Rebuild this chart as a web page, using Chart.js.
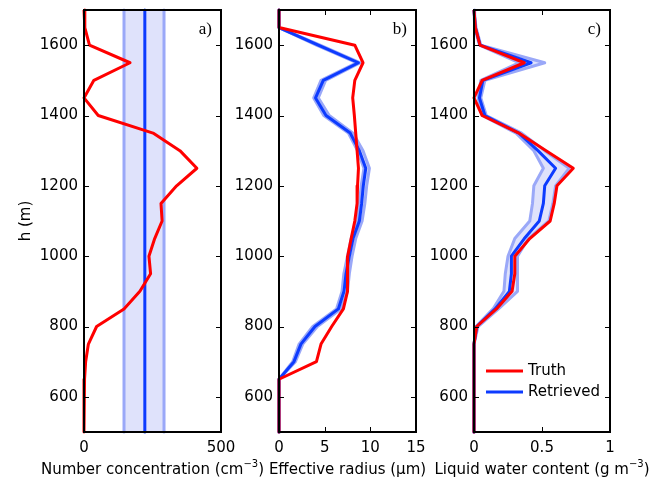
<!DOCTYPE html>
<html>
<head>
<meta charset="utf-8">
<script src="https://cdn.jsdelivr.net/npm/chart.js@4/dist/chart.umd.min.js"></script>
<style>
  body { margin: 0; background: #fff; }
  #wrap { position: relative; width: 652px; height: 483px; }
  canvas { position: absolute; left: 0; top: 0; }
</style>
</head>
<body>
<div id="wrap">
  <canvas id="panelA" width="652" height="483"></canvas>
  <canvas id="panelB" width="652" height="483"></canvas>
  <canvas id="panelC" width="652" height="483"></canvas>
</div>
<script>
// profile heights (m), top to bottom
var heights = [1700, 1650, 1600, 1550, 1500, 1450, 1400, 1350, 1300, 1250, 1200, 1150, 1100,
               1050, 1000, 950, 900, 850, 800, 750, 700, 650, 600, 550, 500];
var hTicks = [600, 800, 1000, 1200, 1400, 1600];

// a) number concentration (cm-3)
var ncTruth = [0, 3, 20, 168, 36, 0, 52, 252, 350, 412, 338, 281, 285,
               258, 237, 243, 204, 146, 46, 16, 6, 2, 0, 0, 0];
var ncHeights = [1700, 500];
var ncRetrieved = [222, 222];
var ncLower = [146, 146];
var ncUpper = [292, 292];
var ncTicks = [0, 500];

// b) effective radius (um)
var reTruth = [0, 0, 8.3, 9.2, 8.3, 8.07, 8.25, 8.4, 8.55, 8.7, 8.6, 8.55, 8.3,
               7.9, 7.52, 7.5, 7.5, 7.05, 5.77, 4.6, 4.1, 0, 0, 0, 0];
var reRetrieved = [0, 0, 4.3, 8.7, 4.85, 4.0, 5.15, 7.8, 8.8, 9.5, 9.23, 9.05, 8.8,
                   8.1, 7.7, 7.34, 7.12, 6.5, 3.94, 2.4, 1.64, 0, 0, 0, 0];
var reLower = [0, 0, 4.1, 8.5, 4.6, 3.8, 4.9, 7.6, 8.6, 9.3, 9.0, 8.8, 8.6,
               7.9, 7.5, 7.1, 6.9, 6.3, 3.7, 2.2, 1.5, 0, 0, 0, 0];
var reUpper = [0, 0, 4.5, 8.9, 5.1, 4.3, 5.5, 8.1, 9.2, 9.9, 9.6, 9.4, 9.1,
               8.4, 8.0, 7.7, 7.5, 6.8, 4.2, 2.6, 1.8, 0, 0, 0, 0];
var reTicks = [0, 5, 10, 15];

// c) liquid water content (g m-3)
var lwcTruth = [0, 0.01, 0.044, 0.37, 0.06, 0, 0.06, 0.33, 0.53, 0.73, 0.61, 0.59, 0.56,
                0.41, 0.30, 0.30, 0.28, 0.165, 0.02, 0, 0, 0, 0, 0, 0];
var lwcRetrieved = [0, 0.01, 0.045, 0.42, 0.065, 0.04, 0.08, 0.33, 0.47, 0.60, 0.52, 0.51, 0.48,
                    0.37, 0.275, 0.275, 0.26, 0.155, 0.02, 0, 0, 0, 0, 0, 0];
var lwcLower = [0, 0.005, 0.04, 0.33, 0.05, 0.03, 0.06, 0.31, 0.44, 0.51, 0.44, 0.43, 0.41,
                0.30, 0.25, 0.23, 0.22, 0.14, 0.015, 0, 0, 0, 0, 0, 0];
var lwcUpper = [0, 0.015, 0.05, 0.52, 0.08, 0.05, 0.09, 0.35, 0.52, 0.70, 0.60, 0.58, 0.55,
                0.40, 0.32, 0.32, 0.32, 0.18, 0.03, 0, 0, 0, 0, 0, 0];
var lwcTicks = [0, 0.5, 1];

Chart.defaults.font.family = 'DejaVu Sans';
Chart.defaults.font.size = 15;
Chart.defaults.color = '#000';

var RED = '#ff0000';
var BLUE = '#0d3bff';
var BAND_EDGE = '#9aa8f8';
var BAND_FILL = '#dfe2fb';

function pts(xs, hs) {
  return xs.map(function (v, i) { return {x: v, y: hs[i]}; });
}

function bandShape(lo, hi, hs) {
  return pts(lo, hs).concat(pts(hi, hs).reverse());
}

function line(label, data, color, order) {
  return {
    label: label, data: data, borderColor: color, borderWidth: 3,
    pointRadius: 0, tension: 0, fill: false, order: order,
    borderJoinStyle: 'round', clip: 6
  };
}

// box with inward ticks on all sides, panel letter, x title, legend
var framePlugin = {
  id: 'frame',
  afterDraw: function (chart) {
    var o = chart.options.plugins.frame;
    var ctx = chart.ctx, a = chart.chartArea;
    var sx = chart.scales.x, sy = chart.scales.y;
    ctx.save();
    ctx.strokeStyle = '#000';
    ctx.lineWidth = 1;
    ctx.beginPath();
    o.xTicks.forEach(function (v) {
      var px = Math.round(sx.getPixelForValue(v)) + 0.5;
      ctx.moveTo(px, a.bottom); ctx.lineTo(px, a.bottom - 5);
      ctx.moveTo(px, a.top); ctx.lineTo(px, a.top + 5);
    });
    hTicks.forEach(function (v) {
      var py = Math.round(sy.getPixelForValue(v)) + 0.5;
      ctx.moveTo(a.left, py); ctx.lineTo(a.left + 5, py);
      ctx.moveTo(a.right, py); ctx.lineTo(a.right - 5, py);
    });
    ctx.stroke();
    ctx.lineWidth = 2;
    ctx.strokeRect(a.left, a.top, a.right - a.left, a.bottom - a.top);

    // panel letter
    ctx.fillStyle = '#000';
    ctx.font = '17px "Liberation Serif"';
    ctx.textAlign = 'right';
    ctx.textBaseline = 'alphabetic';
    ctx.fillText(o.letter, a.right - 9, a.top + 24);

    // x axis title with superscript
    var parts = o.title;
    var widths = parts.map(function (p) {
      ctx.font = (p.sup ? '10px' : '15px') + ' "DejaVu Sans"';
      return ctx.measureText(p.text).width;
    });
    var total = widths.reduce(function (s, w) { return s + w; }, 0);
    var x = (a.left + a.right) / 2 - total / 2;
    ctx.textAlign = 'left';
    parts.forEach(function (p, i) {
      ctx.font = (p.sup ? '10px' : '15px') + ' "DejaVu Sans"';
      ctx.fillText(p.text, x, p.sup ? 467 : 474);
      x += widths[i];
    });

    // legend
    if (o.legend) {
      var items = chart.data.datasets.filter(function (d) { return d.label; });
      ctx.font = '15px "DejaVu Sans"';
      ctx.textBaseline = 'middle';
      items.forEach(function (d, i) {
        var ly = a.top + 361 + i * 21;
        ctx.strokeStyle = d.borderColor;
        ctx.lineWidth = 3;
        ctx.beginPath();
        ctx.moveTo(a.left + 12, ly); ctx.lineTo(a.left + 49, ly);
        ctx.stroke();
        ctx.fillText(d.label, a.left + 54, ly);
      });
    }
    ctx.restore();
  }
};

function makePanel(id, left, right, xMax, xTicks, datasets, frame, showYTitle) {
  return new Chart(document.getElementById(id).getContext('2d'), {
    type: 'line',
    data: {datasets: datasets},
    options: {
      responsive: false,
      animation: false,
      devicePixelRatio: 1,
      layout: {padding: {left: left - 84, right: 652 - right, top: 10, bottom: 0}},
      plugins: {legend: {display: false}, tooltip: {enabled: false}, frame: frame},
      scales: {
        x: {
          type: 'linear', min: 0, max: xMax,
          afterBuildTicks: function (s) { s.ticks = xTicks.map(function (v) { return {value: v}; }); },
          afterFit: function (s) { s.height = 51; s.paddingLeft = 0; s.paddingRight = 0; },
          grid: {display: false, drawTicks: false},
          border: {display: false},
          ticks: {padding: 7, maxRotation: 0, autoSkip: false,
                  callback: function (v) { return String(v); }}
        },
        y: {
          type: 'linear', min: 500, max: 1700,
          afterBuildTicks: function (s) { s.ticks = hTicks.map(function (v) { return {value: v}; }); },
          afterFit: function (s) { s.width = 84; s.paddingTop = 0; s.paddingBottom = 0; },
          grid: {display: false, drawTicks: false},
          border: {display: false},
          ticks: {padding: 6, autoSkip: false, callback: function (v) { return String(v); }},
          title: {display: showYTitle, text: 'h (m)', font: {size: 15}, padding: {top: 17, bottom: 0}}
        }
      }
    },
    plugins: [framePlugin]
  });
}

function profileSets(truth, retrieved, lo, hi, hsRet) {
  return [
    line('Truth', pts(truth, heights), RED, 1),
    line('Retrieved', pts(retrieved, hsRet), BLUE, 2),
    line('', pts(lo, hsRet), BAND_EDGE, 3),
    line('', pts(hi, hsRet), BAND_EDGE, 3),
    {
      label: '', data: bandShape(lo, hi, hsRet), fill: 'shape', backgroundColor: BAND_FILL,
      borderWidth: 0, pointRadius: 0, tension: 0, order: 4
    }
  ];
}

var panelA = makePanel('panelA', 84, 221, 500, ncTicks,
  profileSets(ncTruth, ncRetrieved, ncLower, ncUpper, ncHeights),
  {letter: 'a)', xTicks: ncTicks, legend: false,
   title: [{text: 'Number concentration (cm'}, {text: '\u22123', sup: true}, {text: ')'}]}, true);

var panelB = makePanel('panelB', 279, 416, 15, reTicks,
  profileSets(reTruth, reRetrieved, reLower, reUpper, heights),
  {letter: 'b)', xTicks: reTicks, legend: false,
   title: [{text: 'Effective radius (\u03bcm)'}]}, false);

var panelC = makePanel('panelC', 474, 610, 1, lwcTicks,
  profileSets(lwcTruth, lwcRetrieved, lwcLower, lwcUpper, heights),
  {letter: 'c)', xTicks: lwcTicks, legend: true,
   title: [{text: 'Liquid water content (g m'}, {text: '\u22123', sup: true}, {text: ')'}]}, false);
</script>
</body>
</html>
